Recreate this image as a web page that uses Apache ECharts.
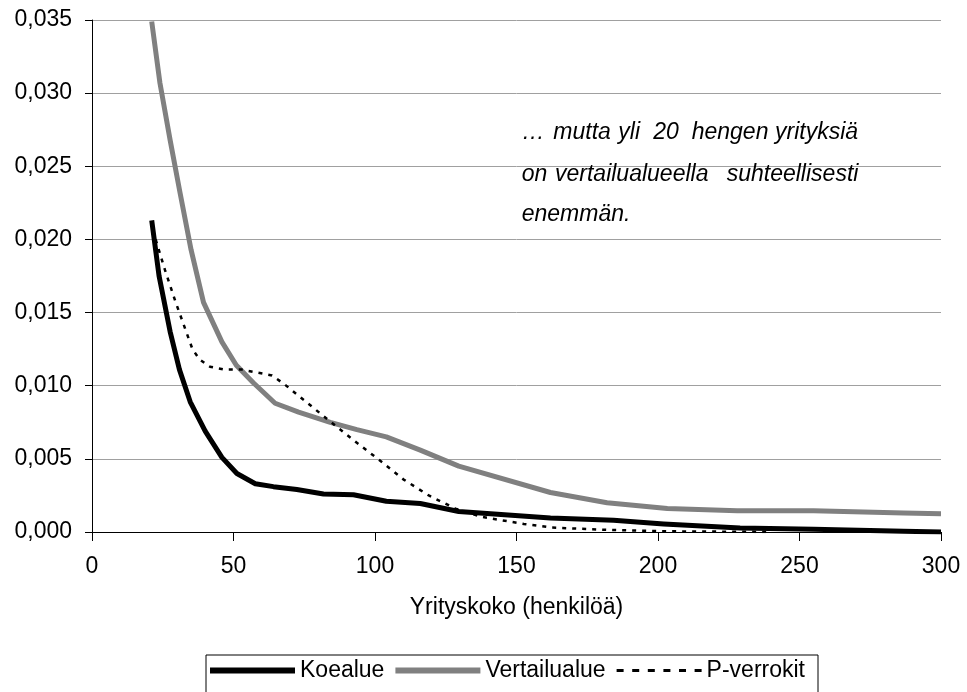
<!DOCTYPE html>
<html>
<head>
<meta charset="utf-8">
<script src="https://cdn.jsdelivr.net/npm/echarts@6/dist/echarts.min.js"></script>
<style>
html,body{margin:0;padding:0;background:#fff;}
#c{width:967px;height:692px;}
</style>
</head>
<body>
<div id="c"></div>
<script>
// ---- data ----
var seriesNames = ['Koealue', 'Vertailualue', 'P-verrokit'];

var koeX = [21.1, 23.7, 27.6, 30.9, 34.7, 40, 45.9, 51.2, 57.7, 64.1, 72.4, 81.8, 92.4, 104, 116, 129.6, 162, 184.3, 202, 229, 255, 286.8, 300];
var koeY = [0.0213, 0.0175, 0.0137, 0.0111, 0.0089, 0.0069, 0.0051, 0.0040, 0.0033, 0.0031, 0.0029, 0.0026, 0.00255, 0.0021, 0.00195, 0.0014, 0.00095, 0.0008, 0.00055, 0.00028, 0.00018, 0.00005, 0];

var vertX = [21.1, 24, 27.6, 31.1, 35, 39.4, 45.9, 51, 57, 64.7, 73, 84.2, 93.6, 104, 116, 129.6, 162, 182, 203.3, 228, 255, 286.8, 300];
var vertY = [0.0349, 0.0307, 0.0268, 0.0232, 0.0193, 0.0157, 0.0130, 0.0114, 0.0102, 0.0088, 0.0082, 0.0075, 0.0070, 0.0065, 0.0056, 0.0045, 0.0027, 0.0020, 0.0016, 0.00145, 0.00145, 0.0013, 0.00125];

var pX = [22.5, 25.8, 29.4, 32.9, 35.5, 38, 41.7, 47, 53, 58.3, 63.6, 68, 80.7, 93.6, 103, 110, 119, 128.4, 137.2, 152.6, 162.6, 183, 203, 240];
var pY = [0.0200, 0.0179, 0.0158, 0.0139, 0.0125, 0.0118, 0.0113, 0.0111, 0.0111, 0.0109, 0.0107, 0.0101, 0.0081, 0.0061, 0.0047, 0.0036, 0.0025, 0.0016, 0.00105, 0.00055, 0.0003, 0.00014, 0.00005, 0];

var xTicks = [0, 50, 100, 150, 200, 250, 300];
var yTicks = [0, 0.005, 0.010, 0.015, 0.020, 0.025, 0.030, 0.035];
var xTitle = 'Yrityskoko (henkilöä)';
var noteLines = [
  ['…', 'mutta', 'yli', '20', 'hengen', 'yrityksiä'],
  ['on', 'vertailualueella', 'suhteellisesti'],
  ['enemmän.']
];

function pairs(xs, ys) { return xs.map(function (x, i) { return [x, ys[i]]; }); }

var FONT = '"Liberation Sans", Arial, sans-serif';
var chart = echarts.init(document.getElementById('c'), null, { renderer: 'canvas' });

// annotation word layout (text positions only)
var wordX = [
  [521.7, 553.3, 618.3, 653.3, 691.7, 775],
  [521.7, 555, 726.7],
  [521.7]
];
var lineY = [133, 175, 215];
var graphics = [];
noteLines.forEach(function (words, li) {
  words.forEach(function (w, wi) {
    graphics.push({
      type: 'text',
      x: wordX[li][wi],
      y: lineY[li],
      style: {
        text: w,
        font: 'italic 23px ' + FONT,
        fill: '#000',
        verticalAlign: 'middle'
      },
      z: 10
    });
  });
});

// legend icons (shapes only)
var solidIcon = 'path://M0,0H85V6H0Z';
var dashIcon = 'path://M0,0h7v3h-7zM15.6,0h7v3h-7zM31.2,0h7v3h-7zM46.8,0h7v3h-7zM62.4,0h7v3h-7zM78,0h7v3h-7z';

var option = {
  backgroundColor: '#fff',
  animation: false,
  grid: { left: 92, right: 26, top: 20, bottom: 160, containLabel: false },
  xAxis: {
    type: 'value',
    min: 0, max: 300, interval: 50,
    name: xTitle,
    nameLocation: 'middle',
    nameGap: 64,
    nameTextStyle: { fontFamily: FONT, fontSize: 23, color: '#000' },
    axisLine: { show: true, lineStyle: { color: '#000', width: 1 } },
    axisTick: { show: true, inside: false, length: 9, lineStyle: { color: '#000' } },
    axisLabel: { fontFamily: FONT, fontSize: 23, color: '#000', margin: 23,
      formatter: function (v) { return String(v); } },
    splitLine: { show: false }
  },
  yAxis: {
    type: 'value',
    min: 0, max: 0.035, interval: 0.005,
    axisLine: { show: true, lineStyle: { color: '#000', width: 1 } },
    axisTick: { show: true, inside: false, length: 7, lineStyle: { color: '#000' } },
    axisLabel: { fontFamily: FONT, fontSize: 23, color: '#000', margin: 20,
      formatter: function (v) { return v.toFixed(3).replace('.', ','); } },
    splitLine: { show: true, lineStyle: { color: '#a0a0a0', width: 1 } }
  },
  legend: {
    left: 206, top: 655,
    padding: [4, 13, 20, 4],
    itemGap: 11,
    itemWidth: 85, itemHeight: 14,
    borderColor: '#000', borderWidth: 1, borderRadius: 0,
    itemStyle: { borderWidth: 0 },
    textStyle: { fontFamily: FONT, fontSize: 23, color: '#000' },
    data: [
      { name: seriesNames[0], icon: solidIcon },
      { name: seriesNames[1], icon: solidIcon },
      { name: seriesNames[2], icon: dashIcon }
    ]
  },
  series: [
    {
      name: seriesNames[0], type: 'line', data: pairs(koeX, koeY),
      symbol: 'none', smooth: false,
      lineStyle: { color: '#000', width: 5, join: 'round' }, itemStyle: { color: '#000' }, z: 4
    },
    {
      name: seriesNames[1], type: 'line', data: pairs(vertX, vertY),
      symbol: 'none', smooth: false,
      lineStyle: { color: '#808080', width: 5, join: 'round' }, itemStyle: { color: '#808080' }, z: 3
    },
    {
      name: seriesNames[2], type: 'line', data: pairs(pX, pY),
      symbol: 'none', smooth: false,
      lineStyle: { color: '#000', width: 2.5, type: [4, 6] }, itemStyle: { color: '#000' }, z: 5
    }
  ],
  graphic: graphics
};
chart.setOption(option);
</script>
</body>
</html>
